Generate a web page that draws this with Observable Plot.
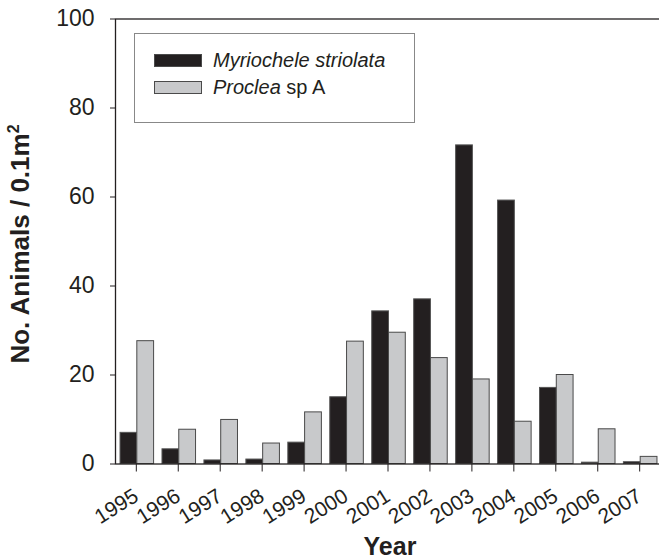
<!DOCTYPE html>
<html>
<head>
<meta charset="utf-8">
<script src="https://cdn.jsdelivr.net/npm/d3@7"></script>
<script src="https://cdn.jsdelivr.net/npm/@observablehq/plot@0.6"></script>
<style>
  html, body { margin: 0; padding: 0; background: #fff; overflow: hidden; }
  #wrap { position: relative; width: 659px; height: 559px; font-family: "Liberation Sans", Arial, sans-serif; }
  #legend { position: absolute; left: 134px; top: 33px; width: 281px; height: 90px; border: 1px solid #888; box-sizing: border-box; background: #fff; }
  .row { position: absolute; left: 19px; display: flex; align-items: center; font-size: 20px; color: #231f20; }
  .sw { width: 48px; height: 13px; box-sizing: border-box; margin-right: 11px; }
</style>
</head>
<body>
<div id="wrap"></div>
<script>
const years = ["1995","1996","1997","1998","1999","2000","2001","2002","2003","2004","2005","2006","2007"];
const seriesNames = ["Myriochele striolata", "Proclea sp A"];
const myriochele = [7.0, 3.3, 0.8, 1.0, 4.8, 15.0, 34.3, 37.0, 71.6, 59.2, 17.1, 0.3, 0.4];
const proclea = [27.6, 7.7, 9.9, 4.6, 11.6, 27.5, 29.5, 23.8, 19.0, 9.5, 20.0, 7.8, 1.6];
const yTicks = [0, 20, 40, 60, 80, 100];
const colors = ["#231f20", "#c8c9cb"];

const mData = years.map((yr, i) => ({year: yr, value: myriochele[i]}));
const pData = years.map((yr, i) => ({year: yr, value: proclea[i]}));

const xOpts = {type: "band", domain: years, range: [115, 662], paddingInner: 0.2, paddingOuter: 0.12, round: false};
const half = Plot.scale({x: xOpts}).bandwidth / 2;

const chart = Plot.plot({
  width: 659,
  height: 559,
  marginLeft: 115,
  marginRight: 0,
  marginTop: 18.5,
  marginBottom: 95.5,
  style: {fontFamily: "Liberation Sans, Arial, sans-serif", color: "#231f20", background: "#fff"},
  x: {...xOpts, label: null},
  y: {domain: [0, 100], label: null},
  marks: [
    Plot.barY(mData, {x: "year", y: "value", fill: colors[0], stroke: "#555", strokeWidth: 1, insetRight: half}),
    Plot.barY(pData, {x: "year", y: "value", fill: colors[1], stroke: "#4a4a4a", strokeWidth: 1, insetLeft: half}),
    Plot.frame({stroke: "#231f20", strokeWidth: 1.3, insetRight: -4}),
    Plot.axisY(yTicks, {tickSize: 5, tickPadding: 16, fontSize: 23, stroke: "#231f20", label: null}),
    Plot.axisX({anchor: "bottom", tickSize: 8, tickPadding: 22, dx: -1, tickRotate: -32, fontSize: 21, label: null}),
  ]
});

const wrap = document.getElementById("wrap");
wrap.appendChild(chart);

const ns = "http://www.w3.org/2000/svg";
const svg = chart;
function addText(txt, attrs, parts) {
  const t = document.createElementNS(ns, "text");
  for (const k in attrs) t.setAttribute(k, attrs[k]);
  if (parts) {
    parts.forEach(p => {
      const ts = document.createElementNS(ns, "tspan");
      ts.textContent = p.t;
      if (p.a) for (const k in p.a) ts.setAttribute(k, p.a[k]);
      t.appendChild(ts);
    });
  } else t.textContent = txt;
  svg.appendChild(t);
  return t;
}

addText(null, {transform: "translate(29,244) rotate(-90)", "text-anchor": "middle", "font-size": 26, "font-weight": "bold", fill: "#231f20"},
  [{t: "No. Animals / 0.1m"}, {t: "2", a: {"font-size": 16, dy: -10}}]);
addText("Year", {x: 390, y: 555, "text-anchor": "middle", "font-size": 25, "font-weight": "bold", fill: "#231f20"});

const legend = document.createElement("div");
legend.id = "legend";
const labels = [
  [{t: "Myriochele striolata", i: true}],
  [{t: "Proclea", i: true}, {t: " sp A", i: false}]
];
labels.forEach((parts, k) => {
  const row = document.createElement("div");
  row.className = "row";
  row.style.top = (k === 0 ? 15 : 42) + "px";
  const sw = document.createElement("div");
  sw.className = "sw";
  sw.style.background = colors[k];
  sw.style.border = "1px solid #4a4a4a";
  row.appendChild(sw);
  const lab = document.createElement("span");
  parts.forEach(p => {
    const s = document.createElement("span");
    s.textContent = p.t;
    if (p.i) s.style.fontStyle = "italic";
    s.style.whiteSpace = "pre";
    lab.appendChild(s);
  });
  row.appendChild(lab);
  legend.appendChild(row);
});
wrap.appendChild(legend);
</script>
</body>
</html>
